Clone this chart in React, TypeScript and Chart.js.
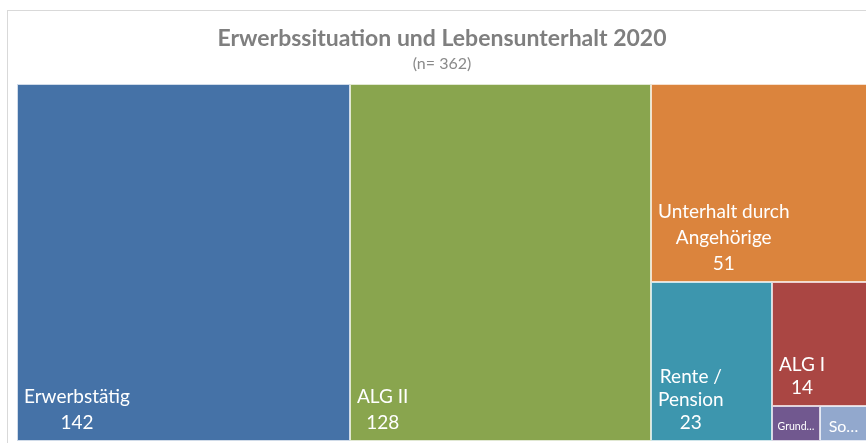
import React, { useEffect, useRef } from "react";
import { Chart, registerables } from "chart.js";

Chart.register(...registerables);

// ---- data ----
const categories = [
  "Erwerbstätig",
  "ALG II",
  "Unterhalt durch Angehörige",
  "Rente / Pension",
  "ALG I",
  "Grundsicherung",
  "Sonstiges",
];
const values = [142, 128, 51, 23, 14, 2, 2];
const cellColors = ["#4572A7", "#89A54E", "#DB843D", "#3D96AE", "#AA4643", "#71588F", "#92A8CD"];
const titleText = "Erwerbssituation und Lebensunterhalt 2020";
const subtitleText = "(n= 362)";

// styles for labels that only fit truncated
const smallLabelFontSize: Record<string, number> = { Grundsicherung: 10.5 };

type Rect = { x: number; y: number; w: number; h: number; i: number };

function squarify(vals: number[], W: number, H: number): Rect[] {
  const total = vals.reduce((a, b) => a + b, 0);
  const areas = vals.map((v) => (v / total) * W * H);
  const out: Rect[] = [];
  let x = 0, y = 0, w = W, h = H;
  let idx = 0;
  while (idx < areas.length) {
    const side = Math.min(w, h);
    const worst = (r: number[]) => {
      const s = r.reduce((a, j) => a + areas[j], 0);
      const t = s / side;
      return Math.max(...r.map((j) => {
        const l = areas[j] / t;
        return Math.max(l / t, t / l);
      }));
    };
    const row = [idx];
    let j = idx + 1;
    while (j < areas.length && worst([...row, j]) <= worst(row)) {
      row.push(j);
      j++;
    }
    const s = row.reduce((a, k) => a + areas[k], 0);
    const thick = s / side;
    if (w >= h) {
      let yy = y;
      for (const k of row) {
        const hh = areas[k] / thick;
        out.push({ x, y: yy, w: thick, h: hh, i: k });
        yy += hh;
      }
      x += thick;
      w -= thick;
    } else {
      let xx = x;
      for (const k of row) {
        const ww = areas[k] / thick;
        out.push({ x: xx, y, w: ww, h: thick, i: k });
        xx += ww;
      }
      y += thick;
      h -= thick;
    }
    idx = j;
  }
  return out;
}

function wrapText(ctx: CanvasRenderingContext2D, text: string, maxW: number): string[] {
  const words = text.split(" ");
  const lines: string[] = [];
  let cur = "";
  for (const wd of words) {
    const test = cur ? cur + " " + wd : wd;
    if (cur && ctx.measureText(test).width > maxW) {
      lines.push(cur);
      cur = wd;
    } else cur = test;
  }
  if (cur) lines.push(cur);
  return lines;
}

function truncate(ctx: CanvasRenderingContext2D, text: string, maxW: number): string {
  if (ctx.measureText(text).width <= maxW) return text;
  for (let n = text.length - 1; n > 0; n--) {
    const t = text.slice(0, n) + "…";
    if (ctx.measureText(t).width <= maxW) return t;
  }
  return text.slice(0, 1) + "…";
}

const FONT = "Lato, 'Open Sans', sans-serif";

const framePlugin = {
  id: "frame",
  beforeDraw(chart: any) {
    const ctx = chart.ctx as CanvasRenderingContext2D;
    ctx.save();
    ctx.fillStyle = "#ffffff";
    ctx.fillRect(0, 0, chart.width, chart.height);
    ctx.strokeStyle = "#d9d9d9";
    ctx.lineWidth = 1;
    ctx.strokeRect(7.5, 10.5, chart.width + 20, chart.height + 20);
    ctx.restore();
  },
};

const treemapPlugin = {
  id: "treemapCells",
  afterDatasetsDraw(chart: any) {
    const ctx = chart.ctx as CanvasRenderingContext2D;
    const xs = chart.scales.x;
    const ys = chart.scales.y;
    const area = chart.chartArea;
    const W = area.right - area.left;
    const H = area.bottom - area.top;
    const rects = squarify(values, W, H);
    ctx.save();
    for (const r of rects) {
      const x0 = Math.round(xs.getPixelForValue(r.x / W));
      const x1 = Math.round(xs.getPixelForValue((r.x + r.w) / W));
      const y0 = Math.round(ys.getPixelForValue(r.y / H));
      const y1 = Math.round(ys.getPixelForValue((r.y + r.h) / H));
      ctx.fillStyle = cellColors[r.i];
      ctx.fillRect(x0, y0, x1 - x0, y1 - y0);
      ctx.strokeStyle = "rgba(255,255,255,0.75)";
      ctx.lineWidth = 1;
      ctx.strokeRect(x0 + 0.5, y0 + 0.5, x1 - x0 - 1, y1 - y0 - 1);

      const name = categories[r.i];
      const cw = x1 - x0;
      const ch = y1 - y0;
      ctx.fillStyle = "#ffffff";
      ctx.textBaseline = "middle";
      if (ch >= 60) {
        ctx.font = `19px ${FONT}`;
        const lines = wrapText(ctx, name, cw - 14);
        lines.push(String(values[r.i]));
        const lh = cw > 150 ? 26 : 23;
        const blockW = Math.max(...lines.map((l) => ctx.measureText(l).width));
        const cx = x0 + 7 + blockW / 2;
        ctx.textAlign = "center";
        const lastY = y1 - 18;
        lines.forEach((l, k) => {
          ctx.fillText(l, cx, lastY - (lines.length - 1 - k) * lh);
        });
      } else {
        const fs = smallLabelFontSize[name] ?? 16;
        ctx.font = `${fs}px ${FONT}`;
        const t = truncate(ctx, name, cw - fs * 0.8);
        ctx.textAlign = "center";
        ctx.fillText(t, (x0 + x1) / 2, (y0 + y1) / 2 + 3);
      }
    }
    ctx.restore();
  },
};

export default function App() {
  const ref = useRef<HTMLCanvasElement | null>(null);
  useEffect(() => {
    if (!ref.current) return;
    const chart = new Chart(ref.current, {
      type: "scatter",
      data: { datasets: [{ data: [] }] },
      options: {
        animation: false,
        responsive: false,
        layout: { padding: { left: 17, right: 13, top: 10, bottom: 9 } },
        scales: {
          x: { type: "linear", min: 0, max: 1, display: false },
          y: { type: "linear", min: 0, max: 1, reverse: true, display: false },
        },
        plugins: {
          legend: { display: false },
          tooltip: { enabled: false },
          title: {
            display: true,
            text: titleText,
            color: "#7f7f7f",
            font: { family: FONT, size: 23, weight: "bold", lineHeight: 1.2 },
            padding: { top: 15, bottom: 0 },
          },
          subtitle: {
            display: true,
            text: subtitleText,
            color: "#8a8a8a",
            font: { family: FONT, size: 16, lineHeight: 1.2 },
            padding: { top: 2, bottom: 10 },
          },
        },
      },
      plugins: [framePlugin, treemapPlugin],
    });
    return () => chart.destroy();
  }, []);
  return (
    <div style={{ position: "fixed", left: 0, top: 0, width: 866, height: 443, overflow: "hidden", background: "#fff" }}>
      <canvas ref={ref} width={880} height={450} style={{ display: "block", width: 880, height: 450 }} />
    </div>
  );
}
